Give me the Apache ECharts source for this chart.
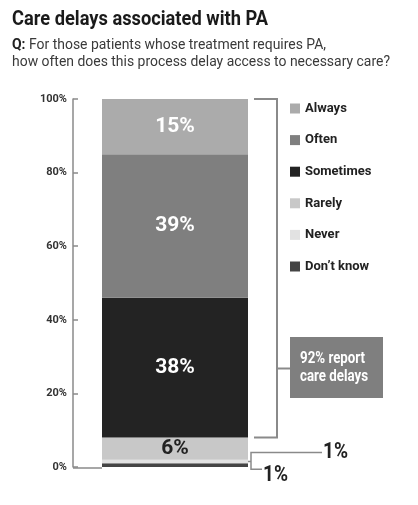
<!DOCTYPE html>
<html><head><meta charset="utf-8">
<script src="https://cdn.jsdelivr.net/npm/echarts@6/dist/echarts.min.js"></script>
<style>html,body{margin:0;padding:0;background:#fff}#c{width:418px;height:505px}</style>
</head><body><div id="c"></div>
<script>
// Data (bottom to top in the stack)
const categories = ['PA'];
const seriesNames = ["Don\u2019t know", 'Never', 'Rarely', 'Sometimes', 'Often', 'Always'];
const seriesValues = [1, 1, 6, 38, 39, 15];
const legendOrder = ['Always', 'Often', 'Sometimes', 'Rarely', 'Never', "Don\u2019t know"];
const yTicks = [0, 20, 40, 60, 80, 100];
const delayShare = 92;
const titleText = 'Care delays associated with PA';
const subPrefix = 'Q:';
const subLines = ['For those patients whose treatment requires PA,', 'how often does this process delay access to necessary care?'];
const boxLines = [delayShare + '% report', 'care delays'];

const FONT = "Roboto, 'Liberation Sans', sans-serif";
const colors = {'Always':'#ababab','Often':'#7f7f7f','Sometimes':'#232323','Rarely':'#c8c8c8','Never':'#e2e2e2',"Don\u2019t know":'#444444'};
const labelColors = {'Always':'#ffffff','Often':'#ffffff','Sometimes':'#ffffff','Rarely':'#222222'};

const mctx = document.createElement('canvas').getContext('2d');
function tw(text, font){ mctx.font = font; return mctx.measureText(text).width; }

const chart = echarts.init(document.getElementById('c'), null, {renderer:'canvas'});

const series = seriesNames.map((n, i) => ({
  name: n, type: 'bar', stack: 'all', barWidth: 146,
  data: [seriesValues[i]],
  itemStyle: {color: colors[n]},
  label: {
    show: !!labelColors[n], position: 'inside',
    formatter: '{c}%', color: labelColors[n] || '#fff',
    fontFamily: FONT, fontWeight: 'bold', fontSize: 21
  },
  emphasis: {disabled: true}
}));

chart.setOption({
  animation: false,
  legend: {
    data: legendOrder, orient: 'vertical', left: 290, top: 101, padding: 0,
    icon: 'rect', itemWidth: 10, itemHeight: 10, itemGap: 16.6,
    selectedMode: false,
    textStyle: {fontFamily: FONT, fontWeight: 'bold', fontSize: 13, lineHeight: 15, color: '#222'}
  },
  grid: {left: 73, right: 418 - 277, top: 99, bottom: 38},
  xAxis: {type: 'category', data: categories, axisLine: {show: false}, axisTick: {show: false}, axisLabel: {show: false}},
  yAxis: {
    type: 'value', min: 0, max: 100, interval: 20,
    axisLine: {show: true, lineStyle: {color: '#8a8a8a', width: 1.5}},
    axisTick: {show: true, inside: true, length: 5, lineStyle: {color: '#8a8a8a', width: 1.5}},
    splitLine: {show: false},
    axisLabel: {formatter: v => yTicks.includes(v) ? v + '%' : '', margin: 6,
      fontFamily: FONT, fontWeight: 'bold', fontSize: 11, color: '#333'}
  },
  series: series
});

function px(v){ return chart.convertToPixel({yAxisIndex: 0}, v); }
const barC = chart.convertToPixel({xAxisIndex: 0}, categories[0]);
const xRight = barC + 73, barL = barC - 73;
const gridL = 73, gridR = 277;
const yTop = px(100), yB = px(100 - delayShare), y0 = px(0);
const lineStyle = {stroke: '#8a8a8a', lineWidth: 2};
const neverMid = px(seriesValues[0] + seriesValues[1] / 2);
const dkMid = px(seriesValues[0] / 2);
const boxX = 290, boxY = 337, boxW = 93, boxH = 61;
const connY = boxY + boxH / 2 + 1;

const titleFont = 'bold 21px ' + FONT;
const titleScale = 256 / tw(titleText, titleFont);
const subFont = '15px ' + FONT, subBold = 'bold 15px ' + FONT;
const subScale = 378 / tw(subLines[1], subFont);
const qW = tw(subPrefix + ' ', subBold) * subScale;
const boxFont = 'bold 16px ' + FONT;
const boxScale = 65 / tw(boxLines[0], boxFont);
const oneFont = 'bold 22px ' + FONT;
const oneScale = 25 / tw('1%', oneFont);

function txt(x, y, text, font, fill, sx){
  return {type: 'text', x: x, y: y, scaleX: sx, style: {text: text, font: font, fill: fill, verticalAlign: 'middle', align: 'left'}};
}

chart.setOption({graphic: [
  txt(12, 19.5, titleText, titleFont, '#1a1a1a', titleScale),
  txt(12, 45, subPrefix, subBold, '#222', subScale),
  txt(12 + qW, 45, subLines[0], subFont, '#3a3a3a', subScale),
  txt(12, 62, subLines[1], subFont, '#3a3a3a', subScale),
  {type: 'line', shape: {x1: gridL, y1: y0 + 1, x2: barL, y2: y0 + 1}, style: {stroke: '#8a8a8a', lineWidth: 1.5}},
  {type: 'polyline', shape: {points: [[xRight + 6, yTop], [gridR, yTop], [gridR, yB], [xRight + 6, yB]]}, style: Object.assign({fill: null}, lineStyle)},
  {type: 'line', shape: {x1: gridR, y1: connY, x2: boxX, y2: connY}, style: lineStyle},
  {type: 'rect', shape: {x: boxX, y: boxY, width: boxW, height: boxH}, style: {fill: '#7f7f7f'}},
  txt(boxX + 10, boxY + 22, boxLines[0], boxFont, '#fff', boxScale),
  txt(boxX + 10, boxY + 40, boxLines[1], boxFont, '#fff', boxScale),
  {type: 'polyline', shape: {points: [[xRight, px(1.5)], [xRight + 3, px(1.5)]]}, style: Object.assign({fill: null}, lineStyle, {lineWidth: 1.5})},
  {type: 'polyline', shape: {points: [[322, neverMid - 9], [xRight + 3, neverMid - 9], [xRight + 3, dkMid + 4], [262, dkMid + 4]]}, style: Object.assign({fill: null}, lineStyle, {lineWidth: 1.5})},
  txt(323, neverMid - 9, seriesValues[1] + '%', oneFont, '#222', oneScale),
  txt(263, dkMid + 10, seriesValues[0] + '%', oneFont, '#222', oneScale)
]});
</script>
</body></html>
